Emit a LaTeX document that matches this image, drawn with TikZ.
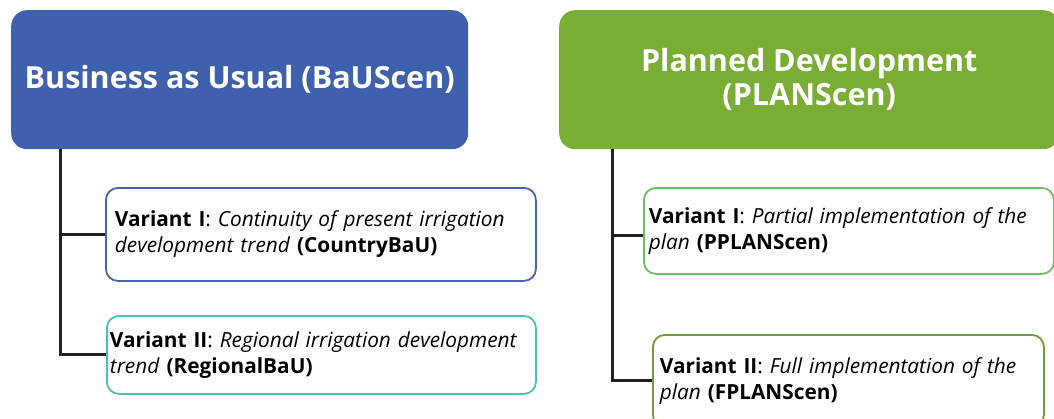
\documentclass[tikz,border=0pt]{standalone}
\usepackage{fontspec}
\setmainfont{Open Sans}
\usetikzlibrary{positioning}

\definecolor{baublue}{HTML}{3F61AD}
\definecolor{plangreen}{HTML}{7AAD34}
\definecolor{cbauline}{HTML}{4666B0}
\definecolor{rbauline}{HTML}{47C2B8}
\definecolor{pplanline}{HTML}{6DC064}
\definecolor{fplanline}{HTML}{6B9F3C}
\definecolor{treeblack}{HTML}{231F20}

\tikzset{
    scen/.style={rounded corners=16pt, fill=#1, text=white, anchor=north west,
        align=center, font=\bfseries\fontsize{30.5}{34}\selectfont},
    variant/.style={draw=#1, line width=1.8pt, rounded corners=12pt, fill=white,
        anchor=north west, align=left, font=\fontsize{20.8}{26}\selectfont},
    branch/.style={line width=3pt, draw=treeblack}
}

\begin{document}
\begin{tikzpicture}[x=1pt,y=-1pt]
\useasboundingbox (0,0) rectangle (1054,418);

%scenario heads
\node[scen=baublue, minimum width=457, minimum height=139] (bau) at (11,10)
    {Business as Usual (BaUScen)};
\node[scen=plangreen, minimum width=500, minimum height=139] (plan) at (559,10)
    {Planned Development\\(PLANScen)};

%variants
\node[variant=cbauline, minimum height=93, text width=412, inner xsep=9] (cbau) at (105,187)
    {\textbf{Variant I}: \textit{Continuity of present irrigation}\\
     \textit{development trend} \textbf{(CountryBaU)}};
\node[variant=rbauline, minimum height=78, text width=423, inner xsep=3] (rbau) at (106,315)
    {\textbf{Variant II}: \textit{Regional irrigation development}\\
     \textit{trend} \textbf{(RegionalBaU)}};
\node[variant=pplanline, minimum height=86, text width=400, inner xsep=5] (pplan) at (643,187)
    {\textbf{Variant I}: \textit{Partial implementation of the}\\
     \textit{plan} \textbf{(PPLANScen)}};
\node[variant=fplanline, minimum height=92, text width=377, inner xsep=7] (fplan) at (652,334)
    {\textbf{Variant II}: \textit{Full implementation of the}\\
     \textit{plan} \textbf{(FPLANScen)}};

%tree lines
\coordinate (bautrunk) at ([xshift=49pt]bau.south west);
\coordinate (plantrunk) at ([xshift=53pt]plan.south west);
\coordinate (pplanin) at ([yshift=-5pt]pplan.west);
\coordinate (fplanin) at (fplan.west);
\draw[branch] (bautrunk) |- (rbau.west);
\draw[branch] (bautrunk |- cbau.west) -- (cbau.west);
\draw[branch] (plantrunk) |- (fplanin);
\draw[branch] (plantrunk |- pplanin) -- (pplanin);

\end{tikzpicture}
\end{document}
